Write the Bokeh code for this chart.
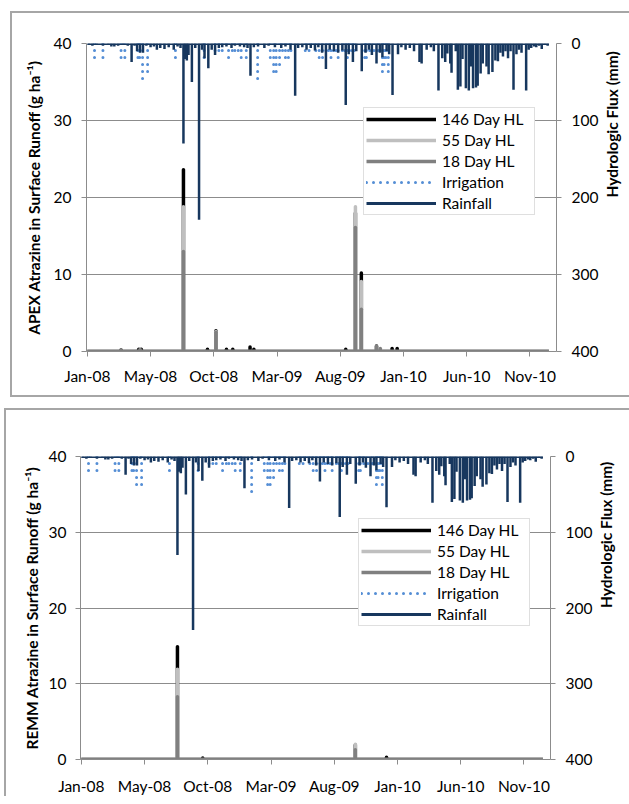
import math
from bokeh.plotting import figure
from bokeh.models import Range1d, LinearAxis, FixedTicker, Legend, LegendItem
from bokeh.layouts import column
from bokeh.embed import file_html
from bokeh.resources import INLINE

# ---------------- data ----------------
# x positions are days since 1 Jan 2008
TICK_DAYS = [0, 150, 300, 450, 600, 750, 900, 1050]
TICK_LABELS = ["Jan-08", "May-08", "Oct-08", "Mar-09", "Aug-09", "Jan-10", "Jun-10", "Nov-10"]
LEFT_TICKS = [0, 10, 20, 30, 40]
RIGHT_TICKS = [0, 100, 200, 300, 400]
SERIES_START = 0
SERIES_END = 1095

RAIN_DAY = [4, 12, 22, 37, 50, 57, 64, 73, 85, 96,
            105, 112, 118, 125, 132, 140, 150, 158, 165, 173,
            183, 193, 205, 214, 221, 228, 232, 236, 240, 248,
            256, 265, 272, 278, 287, 295, 303, 312, 320, 330,
            342, 350, 362, 372, 380, 387, 395, 405, 420, 430,
            445, 460, 470, 482, 493, 500, 510, 520, 530, 540,
            548, 557, 566, 575, 585, 595, 605, 613, 620, 630,
            638, 651, 660, 668, 675, 686, 694, 700, 710, 716,
            724, 737, 745, 755, 765, 775, 788, 793, 805, 815,
            822, 833, 842, 849, 854, 861, 864, 874, 879, 885,
            890, 898, 905, 910, 915, 922, 926, 933, 938, 947,
            952, 961, 968, 974, 980, 986, 992, 998, 1004, 1011,
            1018, 1024, 1030, 1041, 1047, 1053, 1060, 1065, 1072, 1078,
            1085, 1092]
RAIN_MM = [2, 3, 2, 3, 2, 4, 4, 3, 2, 3,
           24, 3, 10, 12, 12, 3, 5, 4, 8, 6,
           7, 5, 8, 4, 6, 130, 20, 22, 15, 50,
           6, 229, 8, 19, 32, 8, 15, 6, 5, 4,
           6, 3, 4, 5, 6, 42, 5, 4, 6, 3,
           5, 6, 4, 8, 68, 6, 5, 8, 6, 9,
           5, 12, 33, 8, 10, 12, 9, 80, 14, 24,
           10, 36, 12, 8, 15, 26, 12, 18, 10, 14,
           67, 14, 5, 8, 6, 10, 24, 26, 8, 5,
           10, 61, 19, 24, 13, 26, 38, 10, 60, 56,
           20, 58, 61, 30, 58, 57, 55, 39, 26, 30,
           40, 37, 22, 23, 12, 17, 10, 19, 10, 60,
           14, 8, 12, 61, 8, 6, 4, 5, 3, 7,
           2, 3]

IRR_DAY = [17, 37, 80, 89, 120, 124, 131, 143, 209, 277,
           303, 312, 320, 328, 335, 344, 350, 358, 365, 377,
           404, 434, 442, 448, 456, 463, 470, 477, 483, 517,
           526, 534, 542, 550, 558, 566, 572, 578, 584, 590,
           595, 605, 611, 617, 622, 628, 633, 658, 662, 670,
           680, 690, 700, 704, 708, 714]
IRR_MM = [24, 21, 23, 24, 20, 23, 46, 37, 25, 19,
          15, 10, 12, 8, 21, 10, 15, 14, 23, 21,
          50, 25, 38, 40, 36, 15, 25, 19, 12, 17,
          13, 8, 17, 19, 19, 10, 15, 19, 17, 15,
          19, 12, 15, 19, 10, 17, 12, 21, 25, 12,
          10, 16, 38, 36, 21, 41]

APEX_146_DAY = [80, 122, 128, 228, 285, 305, 330, 345, 386, 395, 613, 636, 650, 686, 723, 735]
APEX_146_VAL = [0.2, 0.3, 0.3, 23.6, 0.3, 2.7, 0.3, 0.3, 0.6, 0.3, 0.3, 18.0, 10.2, 0.7, 0.4, 0.4]
APEX_55_DAY = [228, 305, 636, 650, 686]
APEX_55_VAL = [18.8, 2.6, 18.8, 9.1, 0.6]
APEX_18_DAY = [80, 125, 228, 305, 636, 650, 686, 695]
APEX_18_VAL = [0.2, 0.3, 13.0, 2.5, 16.1, 5.5, 0.7, 0.4]

REMM_146_DAY = [228, 288, 650, 724]
REMM_146_VAL = [14.9, 0.2, 1.9, 0.3]
REMM_55_DAY = [228, 650]
REMM_55_VAL = [11.9, 2.0]
REMM_18_DAY = [228, 650]
REMM_18_VAL = [8.3, 1.3]

# ---------------- styling ----------------
FONT = "Lato"
C146, C55, C18 = "#000000", "#BFBFBF", "#808080"
CIRR, CRAIN = "#558ED5", "#17375E"
AXIS_GRAY = "#8C8C8C"


def make_panel(ylabel, d146, v146, d55, v55, d18, v18, width, height,
               mb_left, mb_top, mb_bottom, mb_right, xstandoff, ylab_standoff, yaxis_standoff,
               styles, margin, legend_xy):
    p = figure(width=width, height=height, x_range=Range1d(-2, 1113), y_range=Range1d(0, 40),
               output_backend="svg", toolbar_location=None,
               min_border_left=mb_left, min_border_top=mb_top,
               min_border_bottom=mb_bottom, min_border_right=mb_right)
    p.styles = styles
    p.margin = margin
    p.outline_line_color = None
    p.background_fill_color = "white"
    p.border_fill_color = "white"
    p.extra_y_ranges = {"flux": Range1d(start=400, end=0)}

    lt = FixedTicker(ticks=LEFT_TICKS)
    p.yaxis.ticker = lt
    p.ygrid.ticker = lt
    p.ygrid.grid_line_color = AXIS_GRAY
    p.ygrid.grid_line_width = 1
    p.xgrid.visible = False

    p.xaxis.ticker = FixedTicker(ticks=TICK_DAYS)
    p.xaxis.major_label_overrides = {d: l for d, l in zip(TICK_DAYS, TICK_LABELS)}
    p.xaxis.major_label_standoff = xstandoff

    raxis = LinearAxis(y_range_name="flux", ticker=FixedTicker(ticks=RIGHT_TICKS),
                       axis_label="Hydrologic Flux (mm)")
    p.add_layout(raxis, "right")
    raxis.axis_label_orientation = math.pi / 2

    p.yaxis[0].axis_label = ylabel
    for ax in [p.xaxis[0], p.yaxis[0], raxis]:
        ax.axis_line_color = AXIS_GRAY
        ax.axis_line_width = 1
        ax.major_tick_line_color = AXIS_GRAY
        ax.major_tick_out = 5
        ax.major_tick_in = 0
        ax.minor_tick_line_color = None
        ax.major_label_text_font = FONT
        ax.major_label_text_font_size = "15.5px"
        ax.major_label_text_color = "#000000"
        ax.axis_label_text_font = FONT
        ax.axis_label_text_font_size = "15.5px"
        ax.axis_label_text_font_style = "bold"
        ax.axis_label_text_color = "#000000"
    p.yaxis[0].major_label_standoff = ylab_standoff
    p.yaxis[0].axis_label_standoff = yaxis_standoff
    raxis.major_label_standoff = 10
    raxis.axis_label_standoff = 11

    # atrazine series (146 drawn first, 18 on top)
    rends = []
    for days, vals, col in [(d146, v146, C146), (d55, v55, C55), (d18, v18, C18)]:
        base = p.segment(x0=[SERIES_START], y0=[0], x1=[SERIES_END], y1=[0],
                         line_color=col, line_width=3.5)
        p.segment(x0=days, y0=[0] * len(days), x1=days, y1=vals,
                  line_color=col, line_width=3.5, line_cap="round")
        rends.append(base)

    # irrigation (dotted) and rainfall on the inverted right axis
    irr = p.segment(x0=IRR_DAY, y0=[0] * len(IRR_DAY), x1=IRR_DAY, y1=IRR_MM,
                    line_color=CIRR, line_width=3, line_dash="0 7", line_cap="round",
                    y_range_name="flux")
    rain_base = p.segment(x0=[SERIES_START], y0=[0], x1=[SERIES_END], y1=[0],
                          line_color=CRAIN, line_width=3, y_range_name="flux")
    p.segment(x0=RAIN_DAY, y0=[0] * len(RAIN_DAY), x1=RAIN_DAY, y1=RAIN_MM,
              line_color=CRAIN, line_width=2.5, y_range_name="flux")

    legend = Legend(items=[
        LegendItem(label="146 Day HL", renderers=[rends[0]]),
        LegendItem(label="55 Day HL", renderers=[rends[1]]),
        LegendItem(label="18 Day HL", renderers=[rends[2]]),
        LegendItem(label="Irrigation", renderers=[irr]),
        LegendItem(label="Rainfall", renderers=[rain_base]),
    ], location=legend_xy)
    legend.label_text_font = FONT
    legend.label_text_font_size = "15.5px"
    legend.label_text_color = "#000000"
    legend.border_line_color = "#BFBFBF"
    legend.border_line_width = 1.5
    legend.background_fill_color = "white"
    legend.background_fill_alpha = 1.0
    legend.glyph_width = 70
    legend.glyph_height = 18
    legend.label_height = 18
    legend.label_width = 90
    legend.spacing = 3
    legend.padding = 2
    legend.margin = 0
    legend.label_standoff = 6
    p.add_layout(legend)
    return p


BORDER = "2px solid #A6A6A6"
p1 = make_panel("APEX Atrazine in Surface Runoff (g ha\u207b\u00b9)",
                APEX_146_DAY, APEX_146_VAL, APEX_55_DAY, APEX_55_VAL, APEX_18_DAY, APEX_18_VAL,
                width=629, height=386, mb_left=74, mb_top=30, mb_bottom=48, mb_right=77,
                xstandoff=10, ylab_standoff=10, yaxis_standoff=8,
                styles={"border-left": BORDER, "border-top": BORDER, "border-bottom": BORDER},
                margin=(11, 0, 0, 10),
                legend_xy=(277, 136))
p2 = make_panel("REMM Atrazine in Surface Runoff (g ha\u207b\u00b9)",
                REMM_146_DAY, REMM_146_VAL, REMM_55_DAY, REMM_55_VAL, REMM_18_DAY, REMM_18_VAL,
                width=629, height=388, mb_left=72, mb_top=46, mb_bottom=39, mb_right=85,
                xstandoff=12, ylab_standoff=9, yaxis_standoff=5,
                styles={"border-left": BORDER, "border-top": BORDER},
                margin=(11, 0, 0, 4),
                legend_xy=(278, 133))

layout = column(p1, p2, spacing=0)
open("out.html", "w").write(file_html(layout, INLINE))
